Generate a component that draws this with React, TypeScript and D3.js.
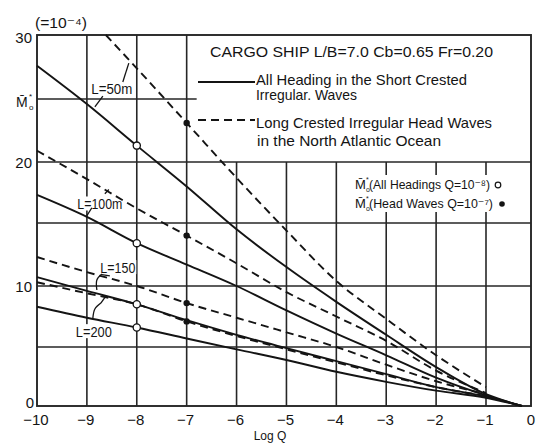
import React from 'react';
import * as d3 from 'd3';

const W = 542;
const H = 444;

// Log Q positions (x) for the short-crested (all heading) curves
const logQ = [-10, -9, -8, -7, -6, -5, -4, -3, -2, -1];
const allHead50 = [27.6, 24.6, 21.3, 18.0, 14.5, 11.5, 8.7, 6.0, 3.3, 1.0];
const allHead100 = [17.3, 15.5, 13.4, 11.7, 10.0, 8.0, 6.1, 4.3, 2.4, 0.9];
const allHead150 = [10.7, 9.6, 8.5, 7.2, 6.0, 4.9, 3.8, 2.7, 1.6, 0.8];
const allHead200 = [8.3, 7.4, 6.6, 5.7, 4.8, 3.9, 2.9, 2.05, 1.3, 0.7];
const convergeQ = -0.2;
const convergeM = 0;

// Long-crested head waves (North Atlantic)
const headLogQ50 = [-8.62, -8, -7, -6, -5, -4, -3, -2, -1];
const head50 = [30, 27.4, 23.1, 18.7, 14.4, 10.4, 7.3, 4.3, 1.6];
const head100 = [20.9, 18.6, 16.2, 14.0, 11.8, 9.5, 7.5, 5.5, 3.0, 1.1];
const head150 = [12.3, 11.1, 10.0, 8.6, 7.4, 6.2, 5.0, 3.5, 2.1, 1.0];
const head200 = [10.3, 9.4, 8.5, 7.1, 5.9, 4.8, 3.7, 2.6, 1.6, 0.85];

// markers
const openMarkQ = -8;
const openMarkVals = [21.3, 13.4, 8.5, 6.6];
const filledMarkQ = -7;
const filledMarkVals = [23.1, 14.0, 8.6, 7.1];

const xTicks = [-10, -9, -8, -7, -6, -5, -4, -3, -2, -1, 0];
const yTickLabels = [0, 10, 20, 30];
const gridY = [5, 10, 15, 20];

const FONT = "'Liberation Sans', Arial, 'DejaVu Sans', sans-serif";

type P = [number, number];

export default function App() {
  const x = d3.scaleLinear().domain([-10, -1, 0]).range([37, 486, 531]);
  const y = d3
    .scaleLinear()
    .domain([0, 5, 10, 15, 20, 25, 30])
    .range([406, 347, 286, 223, 162, 99, 35]);

  const line = d3
    .line<P>()
    .x((d) => x(d[0]))
    .y((d) => y(d[1]))
    .curve(d3.curveMonotoneX);
  const smooth = d3
    .line<P>()
    .x((d) => x(d[0]))
    .y((d) => y(d[1]))
    .curve(d3.curveCatmullRom);

  const solids: P[][] = [allHead50, allHead100, allHead150, allHead200].map((v) => [
    ...logQ.map((q, i) => [q, v[i]] as P),
    [convergeQ, convergeM] as P,
  ]);
  const dashes: P[][] = [
    headLogQ50.map((q, i) => [q, head50[i]] as P),
    logQ.map((q, i) => [q, head100[i]] as P),
    logQ.map((q, i) => [q, head150[i]] as P),
    logQ.map((q, i) => [q, head200[i]] as P),
  ];

  const annotations = [
    { text: 'L=50m', at: [-8.5, 25.85] as P, w: 41 },
    { text: 'L=100m', at: [-8.74, 16.6] as P, w: 45 },
    { text: 'L=150', at: [-8.38, 11.5] as P, w: 35 },
    { text: 'L=200', at: [-8.86, 6.3] as P, w: 36 },
  ];
  const leaders: P[][] = [
    [[-8.84, 24.37], [-8.68, 25.23]],
    [[-8.28, 26.33], [-8.16, 27.8]],
    [[-8.9, 16.25], [-9.0, 15.6]],
    [[-8.64, 17.4], [-8.56, 17.75]],
    [[-8.8, 9.67], [-8.8, 10.48], [-8.7, 10.95]],
    [[-8.7, 10.9], [-8.54, 10.8]],
    [[-8.88, 7.38], [-8.84, 8.11], [-8.72, 8.6]],
    [[-8.72, 8.6], [-8.62, 9.18]],
  ];

  const x0 = x(-10);
  const x1 = x(0);
  const y0 = y(0);
  const y1 = y(30);
  const gridColor = '#262626';
  const ink = '#141414';

  return (
    <svg
      width={W}
      height={H}
      style={{ position: 'absolute', left: 0, top: 0, background: '#fff' }}
      fontFamily={FONT}
    >
      <rect x={0} y={0} width={W} height={H} fill="#fff" />
      {/* grid */}
      <g stroke={gridColor} strokeWidth={1.6} fill="none">
        {xTicks.slice(1, -1).map((q) => (
          <line key={q} x1={x(q)} x2={x(q)} y1={q <= -7 ? y1 : y(20)} y2={y0} />
        ))}
        {gridY.map((m) => (
          <line key={m} x1={x0} x2={x1} y1={y(m)} y2={y(m)} />
        ))}
        <line x1={x0} x2={x(-7) + 10} y1={y(25)} y2={y(25)} />
        <rect x={x0} y={y1} width={x1 - x0} height={y0 - y1} strokeWidth={1.9} />
      </g>
      {/* white mask behind marker legend */}
      <rect x={352} y={175} width={154} height={37} fill="#fff" />
      {/* annotation backgrounds */}
      {annotations.map((a) => (
        <rect
          key={'bg' + a.text}
          x={x(a.at[0]) - a.w / 2 - 1}
          y={y(a.at[1]) - 7}
          width={a.w + 2}
          height={14}
          fill="#fff"
        />
      ))}
      {/* curves */}
      <g fill="none" stroke={ink} strokeWidth={1.9}>
        {solids.map((s, i) => (
          <path key={'s' + i} d={line(s) || ''} />
        ))}
        {dashes.map((s, i) => (
          <path key={'d' + i} d={line(s) || ''} strokeDasharray="8 5" />
        ))}
      </g>
      {/* leaders */}
      <g fill="none" stroke={ink} strokeWidth={1.3}>
        {leaders.map((l, i) => (
          <path key={'l' + i} d={smooth(l) || ''} />
        ))}
      </g>
      {/* markers */}
      {openMarkVals.map((v, i) => (
        <circle key={'o' + i} cx={x(openMarkQ)} cy={y(v)} r={3.6} fill="#fff" stroke={ink} strokeWidth={1.3} />
      ))}
      {filledMarkVals.map((v, i) => (
        <circle key={'f' + i} cx={x(filledMarkQ)} cy={y(v)} r={3.2} fill={ink} />
      ))}
      {/* annotation labels */}
      {annotations.map((a) => (
        <text
          key={a.text}
          x={x(a.at[0]) - a.w / 2}
          y={y(a.at[1]) + 5.5}
          fontSize={15}
          textLength={a.w}
          lengthAdjust="spacingAndGlyphs"
          fill={ink}
        >
          {a.text}
        </text>
      ))}
      {/* axis ticks */}
      {xTicks.map((q) => (
        <text key={'xt' + q} x={x(q) + (q === 0 ? 0 : -1)} y={425} fontSize={15} textAnchor="middle" fill={ink}>
          {q === 0 ? '0' : '\u2212' + Math.abs(q)}
        </text>
      ))}
      {yTickLabels.map((m) => (
        <text
          key={'yt' + m}
          x={m === 0 ? 34 : 32}
          y={y(m) + (m === 0 ? -4 : m === 30 ? 2 : 0)}
          fontSize={15}
          textAnchor="end"
          dominantBaseline="central"
          fill={ink}
        >
          {m}
        </text>
      ))}
      <text x={16} y={107} fontSize={14} fill={ink}>
        {'M\u0304'}
      </text>
      <text x={29} y={99} fontSize={8} fill={ink}>*</text>
      <text x={29} y={110} fontSize={8} fill={ink}>o</text>
      <text x={35} y={28} fontSize={14} fill={ink} textLength={52} lengthAdjust="spacingAndGlyphs">
        {'(=10\u207B\u2074)'}
      </text>
      <text x={270} y={440} fontSize={12} textAnchor="middle" fill={ink}>
        Log Q
      </text>
      {/* legend */}
      <g fill={ink}>
        <text x={210} y={57} fontSize={15} textLength={283} lengthAdjust="spacingAndGlyphs">
          CARGO SHIP L/B=7.0 Cb=0.65 Fr=0.20
        </text>
        <line x1={198} x2={255} y1={82} y2={82} stroke={ink} strokeWidth={1.9} />
        <text x={256} y={84.5} fontSize={15} textLength={211} lengthAdjust="spacingAndGlyphs">
          All Heading in the Short Crested
        </text>
        <text x={256} y={100} fontSize={15} textLength={101} lengthAdjust="spacingAndGlyphs">
          Irregular. Waves
        </text>
        <line x1={198} x2={255} y1={120} y2={120} stroke={ink} strokeWidth={1.9} strokeDasharray="8 5" />
        <text x={256} y={127.5} fontSize={15} textLength={236} lengthAdjust="spacingAndGlyphs">
          Long Crested Irregular Head Waves
        </text>
        <text x={257} y={145.5} fontSize={15} textLength={184} lengthAdjust="spacingAndGlyphs">
          in the North Atlantic Ocean
        </text>
        {/* marker legend line 1 */}
        <text x={355} y={189} fontSize={13}>{'M\u0304'}</text>
        <text x={366} y={182} fontSize={7}>*</text>
        <text x={366} y={192} fontSize={7}>o</text>
        <text x={369} y={189} fontSize={13} textLength={121} lengthAdjust="spacingAndGlyphs">
          {'(All Headings Q=10\u207B\u2078)'}
        </text>
        <circle cx={498} cy={185} r={2.8} fill="#fff" stroke={ink} strokeWidth={1.2} />
        {/* marker legend line 2 */}
        <text x={355} y={208} fontSize={13}>{'M\u0304'}</text>
        <text x={366} y={201} fontSize={7}>*</text>
        <text x={366} y={211} fontSize={7}>o</text>
        <text x={369} y={208} fontSize={13} textLength={124} lengthAdjust="spacingAndGlyphs">
          {'(Head Waves Q=10\u207B\u2077)'}
        </text>
        <circle cx={502} cy={204} r={2.8} fill={ink} />
      </g>
    </svg>
  );
}
